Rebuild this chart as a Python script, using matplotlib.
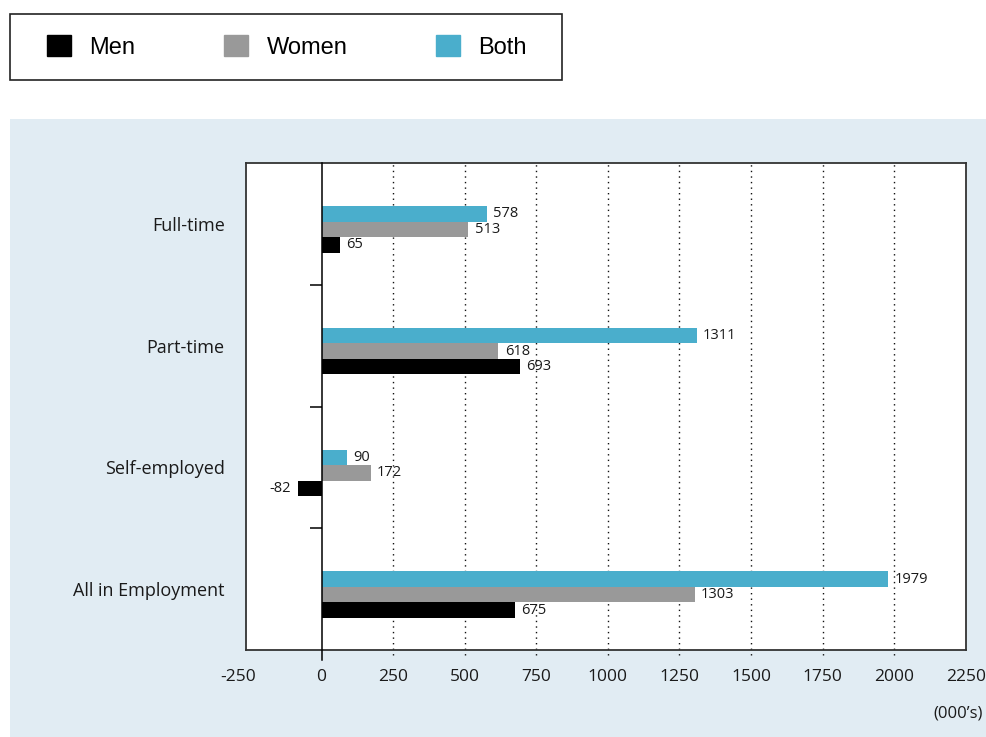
import matplotlib
matplotlib.use("Agg")
import matplotlib.pyplot as plt
import matplotlib.transforms as mtransforms
from matplotlib.patches import Rectangle, Patch
import numpy as np

categories = ["Full-time", "Part-time", "Self-employed", "All in Employment"]
men = [65, 693, -82, 675]
women = [513, 618, 172, 1303]
both = [578, 1311, 90, 1979]
xticks = [-250, 0, 250, 500, 750, 1000, 1250, 1500, 1750, 2000, 2250]
grid_x = [250, 500, 750, 1000, 1250, 1500, 1750, 2000]

C_MEN = "#000000"
C_WOMEN = "#999999"
C_BOTH = "#4aaecc"
PANEL = "#e1ecf3"
FONT = ["Open Sans", "DejaVu Sans"]

W, H = 986, 737
fig = plt.figure(figsize=(W / 100, H / 100), dpi=100)

# background panel
fig.patches.append(Rectangle((10 / W, 0), (W - 10) / W, (H - 118.7) / H,
                             transform=fig.transFigure, facecolor=PANEL,
                             edgecolor="none", zorder=-2))

ax = fig.add_axes([245.7 / W, 1 - 650 / H, (965.7 - 245.7) / W, (650 - 163) / H])
ax.set_facecolor("white")
ax.set_xlim(-265, 2249)
ax.set_ylim(3.5, -0.5)

y = np.arange(len(categories))
bh = 0.127
shift = 0.045
ax.barh(y - bh + shift, both, height=bh, color=C_BOTH, zorder=3)
ax.barh(y + shift, women, height=bh, color=C_WOMEN, zorder=3)
ax.barh(y + bh + shift, men, height=bh, color=C_MEN, zorder=3)

for series, off in ((both, -bh), (women, 0), (men, bh)):
    for yi, v in zip(y, series):
        if v >= 0:
            ax.annotate(f"{v}", (v, yi + off + shift), xytext=(4.5, 0),
                        textcoords="offset points", ha="left", va="center",
                        fontsize=10.5, family=FONT, color="#1a1a1a", zorder=4)
        else:
            ax.annotate(f"{v}", (v, yi + off + shift), xytext=(-5, 0),
                        textcoords="offset points", ha="right", va="center",
                        fontsize=10.5, family=FONT, color="#1a1a1a", zorder=4)

# gridlines (dotted) extending slightly below the axes
for gx in grid_x:
    ax.axvline(gx, ymin=-0.011, ymax=1, color="#111111", lw=1.0,
               linestyle=(0, (1, 3)), clip_on=False, zorder=1)
# zero line
ax.axvline(0, ymin=-0.02, ymax=1, color="black", lw=1.1, clip_on=False, zorder=5)

# separator ticks between categories
for sep in y[:-1] + 0.5:
    ax.hlines(sep, -42, 0, color="black", lw=1.1, zorder=5)

ax.set_xticks(xticks)
ax.set_xticklabels([str(t) for t in xticks], family=FONT, fontsize=12.5, color="#1a1a1a")
ax.tick_params(axis="x", length=0, pad=14)
ax.set_yticks(y)
ax.set_yticklabels(categories, family=FONT, fontsize=13, color="#1a1a1a")
ax.tick_params(axis="y", length=0, pad=15)

for s in ax.spines.values():
    s.set_color("#333333")
    s.set_linewidth(1.3)

# shift the -250 label slightly left
lbl = ax.get_xticklabels()[0]
lbl.set_transform(lbl.get_transform() + mtransforms.ScaledTranslation(-12 / 100, 0, fig.dpi_scale_trans))

fig.text(983 / W, 1 - 713 / H, "(000\u2019s)", ha="right", va="center",
         family=FONT, fontsize=12, color="#1a1a1a")

# legend box
fig.patches.append(Rectangle((10 / W, 1 - 80 / H), 552 / W, 66 / H,
                             transform=fig.transFigure, facecolor="white",
                             edgecolor="#222222", lw=1.2, zorder=1))
handles = [Patch(color=C_MEN, label="Men"), Patch(color=C_WOMEN, label="Women"),
           Patch(color=C_BOTH, label="Both")]
fig.legend(handles=handles, ncol=3, loc="center left",
           bbox_to_anchor=(47 / W, 1 - 47 / H), frameon=False,
           prop={"family": ["Liberation Sans", "DejaVu Sans"], "size": 17},
           handlelength=1.0, handleheight=1.0, handletextpad=0.8,
           columnspacing=3.75, borderpad=0, borderaxespad=0)

fig.savefig("out.png", dpi=100)
